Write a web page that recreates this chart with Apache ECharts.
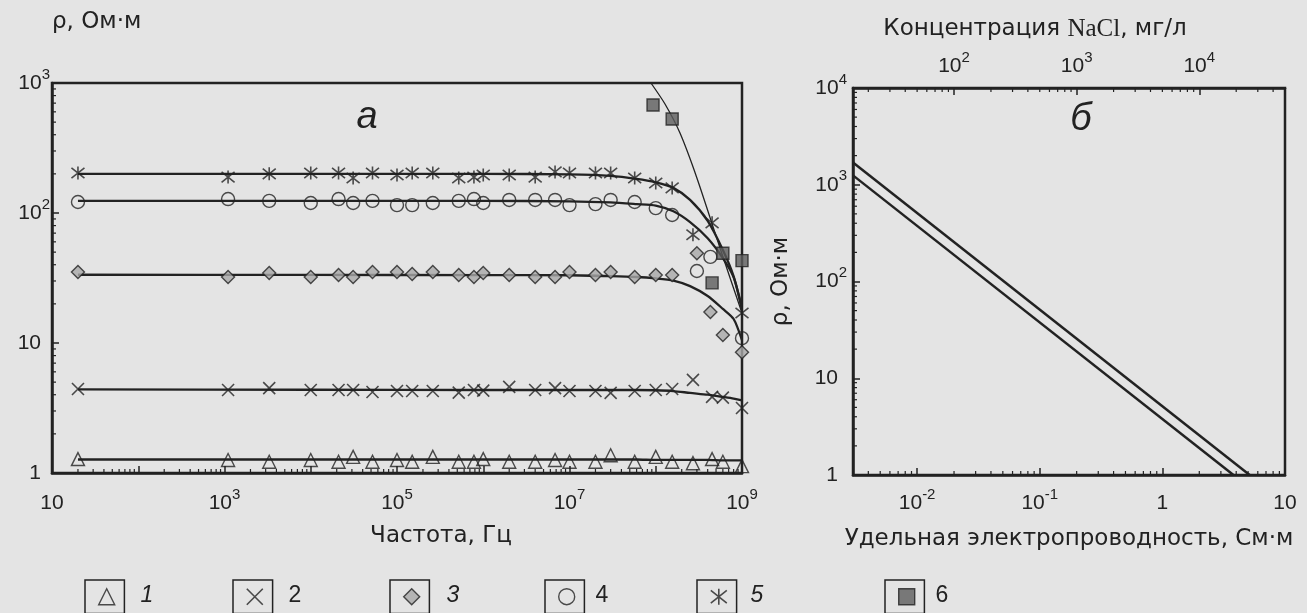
<!DOCTYPE html>
<html>
<head>
<meta charset="utf-8">
<title>Удельное сопротивление</title>
<script src="https://cdn.jsdelivr.net/npm/echarts@6/dist/echarts.min.js"></script>
<style>
  html, body { margin: 0; padding: 0; background: #e4e4e4; }
  #chart { width: 1307px; height: 613px; }
</style>
</head>
<body>
<div id="chart"></div>
<script>
// values
// panel a: resistivity (Ом·м) vs frequency (Гц)
var freq = [20, 1.1e3, 3.3e3, 1e4, 2.1e4, 3.1e4, 5.2e4, 1e5, 1.5e5, 2.6e5, 5.2e5, 7.8e5,
            1e6, 2e6, 4e6, 6.8e6, 1e7, 2e7, 3e7, 5.7e7, 1e8, 1.55e8];

var rho1 = [1.28, 1.26, 1.22, 1.26, 1.22, 1.33, 1.22, 1.26, 1.22, 1.33, 1.22, 1.22,
            1.28, 1.22, 1.22, 1.26, 1.22, 1.22, 1.37, 1.22, 1.33, 1.22];
var freqHi1 = [2.7e8, 4.5e8, 6e8, 1e9];
var rhoHi1 = [1.19, 1.28, 1.22, 1.13];

var rho2 = [4.43, 4.35, 4.5, 4.35, 4.35, 4.35, 4.2, 4.27, 4.27, 4.27, 4.15, 4.35,
            4.3, 4.6, 4.35, 4.5, 4.27, 4.27, 4.13, 4.27, 4.35, 4.43];
var freqHi2 = [2.7e8, 4.5e8, 6e8, 1e9];
var rhoHi2 = [5.2, 3.85, 3.8, 3.16];

var rho3 = [35.2, 32.2, 34.5, 32.2, 33.3, 32.2, 35.2, 35.2, 34, 35.2, 33.3, 32.2,
            34.5, 33.3, 32.2, 32.2, 35.2, 33.3, 35.2, 32.2, 33.3, 33.3];
var freqHi3 = [3e8, 4.3e8, 6e8, 1e9];
var rhoHi3 = [49, 17.3, 11.5, 8.5];

var rho4 = [121.5, 128, 124, 119.4, 128, 119.4, 124, 115, 115, 119.4, 124, 128,
            119.4, 126, 126, 126, 115, 117, 126, 121.5, 109, 96.5];
var freqHi4 = [3e8, 4.3e8, 1e9];
var rhoHi4 = [35.8, 46, 10.9];

var rho5 = [203, 189, 200, 203, 203, 186, 203, 196, 203, 203, 186, 189,
            196, 196, 189, 207, 203, 203, 203, 186, 170, 156];
var freqHi5 = [2.7e8, 4.5e8, 1e9];
var rhoHi5 = [68, 84, 17];

var freq6 = [9.3e7, 1.55e8, 4.5e8, 6e8, 1e9];
var rho6 = [678, 528, 29, 49, 43];

// fitted curves, read at these frequencies
var fitFreq = [20, 1e4, 1e6, 1e7, 3e7, 6e7, 1e8, 1.6e8, 2.5e8, 4e8, 6e8, 8e8, 1e9];
var fit1 = [1.27, 1.27, 1.27, 1.27, 1.27, 1.27, 1.26, 1.26, 1.26, 1.26, 1.25, 1.25, 1.25];
var fit2 = [4.4, 4.37, 4.35, 4.35, 4.35, 4.35, 4.33, 4.27, 4.13, 4.0, 3.85, 3.74, 3.62];
var fit3 = [33.5, 33.4, 33.3, 33.2, 32.7, 32.2, 31.4, 30.2, 27.4, 23, 18.3, 15.3, 10.5];
var fit4 = [124, 124, 124, 123, 120.5, 117, 114, 103, 85, 64, 45, 32, 18.6];
var fit5 = [200, 200, 200, 198, 193, 183, 172, 156, 126, 87, 52, 32.6, 18];
var fitF6 = [8.8e7, 1.28e8, 1.91e8, 3e8, 5.56e8, 1e9];
var fitR6 = [1000, 689, 412, 186, 53.8, 17];

// panel б: resistivity vs conductivity (См·м)
var sigmaA = [0.003, 3.8];
var rhoA = [1250, 1];
var sigmaB = [0.003, 5.15];
var rhoB = [1700, 1];

var legendNames = ['1', '2', '3', '4', '5', '6'];

var ink = '#222222';
var font = 'Liberation Sans';
var nameFont = 'DejaVu Sans';

function pairs(xs, ys) {
  return xs.map(function (x, i) { return [x, ys[i]]; });
}

function expOf(v) {
  var l = Math.log10(v), e = Math.round(l);
  return Math.abs(l - e) < 1e-6 ? e : null;
}

var rich = {
  b: { fontSize: 21, fontFamily: font, color: ink, lineHeight: 32 },
  s: { fontSize: 15, fontFamily: font, color: ink, lineHeight: 15, verticalAlign: 'top' },
  e: { width: 9 }
};

function xLabel(only) {
  return function (v) {
    var e = expOf(v);
    if (e === null || (only && !only(e))) return '';
    if (e === 0) return '{b|1}';
    if (e === 1) return '{b|10}';
    return '{b|10}{s|' + e + '}';
  };
}

function yLabel(v) {
  var e = expOf(v);
  if (e === null) return '';
  if (e === 0) return '{b|1}{e|}';
  if (e === 1) return '{b|10}{e|}';
  return '{b|10}{s|' + e + '}';
}

// small log ticks (2..9 in every decade)
var minorMult = [2, 3, 4, 5, 6, 7, 8, 9];
function minorValues(lo, hi) {
  var out = [];
  for (var e = Math.floor(Math.log10(lo)); e <= Math.ceil(Math.log10(hi)); e++) {
    minorMult.forEach(function (m) {
      var v = m * Math.pow(10, e);
      if (v > lo * 1.0001 && v < hi * 0.9999) out.push(v);
    });
  }
  return out;
}

function tickSeries(xi, yi, pts, dx, dy) {
  return {
    type: 'custom', xAxisIndex: xi, yAxisIndex: yi, silent: true, clip: false, z: 6,
    data: pts,
    renderItem: function (params, api) {
      var p = api.coord([api.value(0), api.value(1)]);
      return {
        type: 'line',
        shape: { x1: p[0], y1: p[1], x2: p[0] + dx, y2: p[1] + dy },
        style: { stroke: ink, lineWidth: 1.2 }
      };
    }
  };
}

var axisLine = { lineStyle: { color: ink, width: 2.5 } };
var axisTick = { inside: true, length: 7, lineStyle: { color: ink, width: 1.5 } };
var nameStyle = { fontSize: 23, fontFamily: nameFont, color: ink };

function pointSeries(name, data, symbol, size, style) {
  return {
    name: name, type: 'scatter', xAxisIndex: 0, yAxisIndex: 0, z: 4,
    data: data, symbol: symbol, symbolSize: size, itemStyle: style
  };
}

function fitSeries(xs, ys, width) {
  return {
    type: 'line', xAxisIndex: 0, yAxisIndex: 0, z: 3,
    data: pairs(xs, ys), showSymbol: false, smooth: 0.25,
    lineStyle: { color: ink, width: width }
  };
}

var hollow = { color: 'transparent', borderColor: ink, borderWidth: 1.4 };
var stroked = { color: 'transparent', borderColor: ink, borderWidth: 1.6 };
var symCross = 'path://M0,0L10,10M10,0L0,10';
var symStar = 'path://M5,0L5,10M0,1L10,9M10,1L0,9';

var legendIcons = [
  { icon: 'triangle', style: hollow },
  { icon: symCross, style: stroked },
  { icon: 'diamond', style: { color: '#a8a8a8', borderColor: ink, borderWidth: 1.4 } },
  { icon: 'circle', style: hollow },
  { icon: symStar, style: stroked },
  { icon: 'rect', style: { color: '#5c5c5c', borderColor: ink, borderWidth: 1.4 } }
];
var legendLeft = [85, 233, 390, 545, 697, 885];
var numberX = [147, 295, 453, 602, 757, 942];

var legends = legendNames.map(function (n, i) {
  return {
    data: [{ name: n, icon: legendIcons[i].icon, itemStyle: legendIcons[i].style }],
    left: legendLeft[i], top: 580, itemWidth: 16, itemHeight: 16,
    padding: [8, 9, 8, 13], borderColor: ink, borderWidth: 1.5,
    selectedMode: false, formatter: function () { return ''; },
    textStyle: { fontSize: 10 }
  };
});

var graphics = [
  { type: 'text', x: 367, y: 117, style: { text: 'а', font: 'italic 38px "Liberation Sans"', fill: ink, align: 'center', verticalAlign: 'middle' } },
  { type: 'text', x: 1081, y: 119, style: { text: 'б', font: 'italic 38px "Liberation Sans"', fill: ink, align: 'center', verticalAlign: 'middle' } }
];
legendNames.forEach(function (n, i) {
  graphics.push({
    type: 'text', x: numberX[i], y: 596,
    style: { text: n, font: (i % 2 === 0 ? 'italic ' : '') + '23px "Liberation Sans"', fill: ink, align: 'center', verticalAlign: 'middle' }
  });
});

var option = {
  animation: false,
  backgroundColor: '#e4e4e4',
  grid: [
    { left: 52, top: 83, width: 690, height: 390, show: true, borderColor: ink, borderWidth: 2.5, backgroundColor: 'transparent' },
    { left: 853, top: 88, width: 432, height: 387, show: true, borderColor: ink, borderWidth: 2.5, backgroundColor: 'transparent' }
  ],
  xAxis: [
    {
      type: 'log', gridIndex: 0, min: 10, max: 1e9,
      name: 'Частота, Гц', nameLocation: 'middle', nameGap: 52,
      nameTextStyle: Object.assign({ padding: [0, 0, 0, 88] }, nameStyle),
      axisLine: axisLine, axisTick: axisTick, splitLine: { show: false },
      axisLabel: { formatter: xLabel(function (e) { return e % 2 === 1; }), margin: 14, rich: rich }
    },
    {
      type: 'log', gridIndex: 1, min: 0.003, max: 10,
      name: 'Удельная электропроводность, См·м', nameLocation: 'middle', nameGap: 53,
      nameTextStyle: nameStyle,
      axisLine: axisLine, axisTick: axisTick, splitLine: { show: false },
      axisLabel: { formatter: xLabel(null), margin: 12, rich: rich }
    },
    {
      type: 'log', gridIndex: 1, position: 'top', min: 15, max: 50000,
      name: 'Концентрация {n|NaCl}, мг/л', nameLocation: 'middle', nameGap: 46,
      nameTextStyle: Object.assign({ padding: [0, 68, 0, 0], rich: { n: { fontSize: 25, fontFamily: 'Liberation Serif', color: ink } } }, nameStyle),
      axisLine: axisLine, axisTick: axisTick, splitLine: { show: false },
      axisLabel: { formatter: xLabel(null), margin: 6, rich: rich }
    }
  ],
  yAxis: [
    {
      type: 'log', gridIndex: 0, min: 1, max: 1000,
      name: 'ρ, Ом·м', nameLocation: 'end', nameGap: 49,
      nameTextStyle: Object.assign({ align: 'left' }, nameStyle),
      axisLine: axisLine, axisTick: axisTick, splitLine: { show: false },
      axisLabel: { formatter: yLabel, margin: 2, rich: rich }
    },
    {
      type: 'log', gridIndex: 1, min: 1, max: 10000,
      name: 'ρ, Ом·м', nameLocation: 'middle', nameGap: 60, nameRotate: 90,
      nameTextStyle: nameStyle,
      axisLine: axisLine, axisTick: axisTick, splitLine: { show: false },
      axisLabel: { formatter: yLabel, margin: 6, rich: rich }
    }
  ],
  legend: legends,
  graphic: graphics,
  series: [
    fitSeries(fitFreq, fit1, 2.3),
    fitSeries(fitFreq, fit2, 2.3),
    fitSeries(fitFreq, fit3, 2.3),
    fitSeries(fitFreq, fit4, 2.3),
    fitSeries(fitFreq, fit5, 2.3),
    fitSeries(fitF6, fitR6, 1.3),
    pointSeries('1', pairs(freq, rho1).concat(pairs(freqHi1, rhoHi1)), 'triangle', 13, hollow),
    pointSeries('2', pairs(freq, rho2).concat(pairs(freqHi2, rhoHi2)), symCross, 12, stroked),
    pointSeries('3', pairs(freq, rho3).concat(pairs(freqHi3, rhoHi3)), 'diamond', 13, legendIcons[2].style),
    pointSeries('4', pairs(freq, rho4).concat(pairs(freqHi4, rhoHi4)), 'circle', 13, hollow),
    pointSeries('5', pairs(freq, rho5).concat(pairs(freqHi5, rhoHi5)), symStar, 13, stroked),
    pointSeries('6', pairs(freq6, rho6), 'rect', 12, legendIcons[5].style),
    {
      type: 'line', xAxisIndex: 1, yAxisIndex: 1, data: pairs(sigmaA, rhoA),
      showSymbol: false, lineStyle: { color: ink, width: 2.5 }
    },
    {
      type: 'line', xAxisIndex: 1, yAxisIndex: 1, data: pairs(sigmaB, rhoB),
      showSymbol: false, lineStyle: { color: ink, width: 2.5 }
    },
    // minor ticks
    tickSeries(0, 0, minorValues(10, 1e9).map(function (v) { return [v, 1]; }), 0, -4),
    tickSeries(0, 0, minorValues(1, 1000).map(function (v) { return [10, v]; }), 4, 0),
    tickSeries(1, 1, minorValues(0.003, 10).map(function (v) { return [v, 1]; }), 0, -4),
    tickSeries(1, 1, minorValues(1, 10000).map(function (v) { return [0.003, v]; }), 4, 0),
    tickSeries(2, 1, minorValues(15, 50000).map(function (v) { return [v, 10000]; }), 0, 4)
  ]
};

var chart = echarts.init(document.getElementById('chart'));
chart.setOption(option);
</script>
</body>
</html>
